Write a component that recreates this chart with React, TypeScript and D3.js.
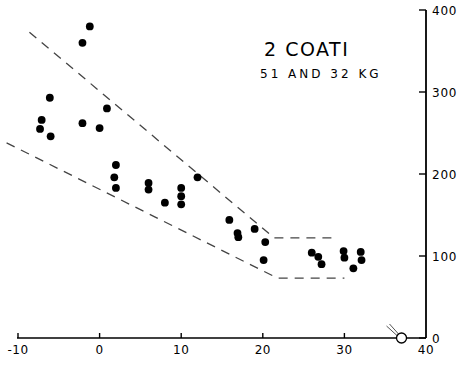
import React from "react";
import * as d3 from "d3";

const pointX = [-1.2, -2.1, -6.1, -7.1, -7.3, -6.0, -2.1, 0.0, 0.9, 2.0, 1.8, 2.0, 6.0, 6.0, 10.0, 10.0, 10.0, 8.0, 12.0, 15.9, 16.9, 17.0, 19.0, 20.3, 20.1, 26.0, 26.8, 27.2, 29.9, 30.0, 31.1, 32.0, 32.1];
const pointY = [380, 360, 293, 266, 255, 246, 262, 256, 280, 211, 196, 183, 189, 181, 183, 173, 163, 165, 196, 144, 128, 123, 133, 117, 95, 104, 99, 90, 106, 98, 85, 105, 95];

const upperX = [-8.6, 21.4, 28.6];
const upperY = [373, 122, 122];
const lowerX = [-11.4, 21.8, 30.0];
const lowerY = [238, 73, 73];

const xTicks = [-10, 0, 10, 20, 30, 40];
const yTicks = [0, 100, 200, 300, 400];

const markerX = [37];
const markerY = [0];

const titleLines = ["2 COATI", "51 AND 32 KG"];

export default function App() {
  const W = 469, H = 367;
  const x = d3.scaleLinear().domain([-10, 40]).range([18, 426]);
  const y = d3.scaleLinear().domain([0, 400]).range([338, 10]);
  const line = d3.line<[number, number]>().x(d => x(d[0])).y(d => y(d[1]));
  const upper = line(upperX.map((v, i) => [v, upperY[i]]));
  const lower = line(lowerX.map((v, i) => [v, lowerY[i]]));
  const font = "'DejaVu Sans', sans-serif";
  const mx = x(markerX[0]), my = y(markerY[0]);
  return (
    <svg width={W} height={H} style={{ position: "absolute", left: 0, top: 0, background: "#fff" }}>
      <path d={upper || ""} fill="none" stroke="#444" strokeWidth={1.3} strokeDasharray="9,7" />
      <path d={lower || ""} fill="none" stroke="#444" strokeWidth={1.3} strokeDasharray="9,7" />
      {pointX.map((v, i) => (
        <circle key={i} cx={x(v)} cy={y(pointY[i])} r={3.9} fill="#000" />
      ))}
      {/* x axis */}
      <line x1={x(-10) - 1} x2={x(40)} y1={y(0)} y2={y(0)} stroke="#000" strokeWidth={1.6} />
      {xTicks.filter(t => t < 40).map(t => (
        <line key={t} x1={x(t)} x2={x(t)} y1={y(0)} y2={y(0) - 5} stroke="#000" strokeWidth={1.4} />
      ))}
      {xTicks.map(t => (
        <text key={t} x={x(t)} y={y(0) + 16} textAnchor="middle" fontFamily={font} fontSize={12} letterSpacing={0.5} fill="#000">{t}</text>
      ))}
      {/* y axis */}
      <line x1={x(40)} x2={x(40)} y1={y(0)} y2={y(400)} stroke="#000" strokeWidth={1.8} />
      {yTicks.map(t => (
        <line key={t} x1={x(40) - 7} x2={x(40)} y1={y(t)} y2={y(t)} stroke="#000" strokeWidth={1.4} />
      ))}
      {yTicks.map(t => (
        <text key={t} x={x(40) + 6} y={y(t) + 1} dominantBaseline="middle" fontFamily={font} fontSize={12} letterSpacing={0.8} fill="#000">{t}</text>
      ))}
      {/* marker */}
      <line x1={mx - 15} x2={mx - 4} y1={my - 12} y2={my - 2} stroke="#555" strokeWidth={1} />
      <line x1={mx - 12} x2={mx - 3} y1={my - 14} y2={my - 4} stroke="#555" strokeWidth={1} />
      <circle cx={mx} cy={my} r={5} fill="#fff" stroke="#000" strokeWidth={1.3} />
      {/* title */}
      <text x={264} y={56} fontFamily={font} fontSize={19} letterSpacing={1.5} fill="#000">{titleLines[0]}</text>
      <text x={260} y={78} fontFamily={font} fontSize={12} letterSpacing={3} fill="#000">{titleLines[1]}</text>
    </svg>
  );
}
